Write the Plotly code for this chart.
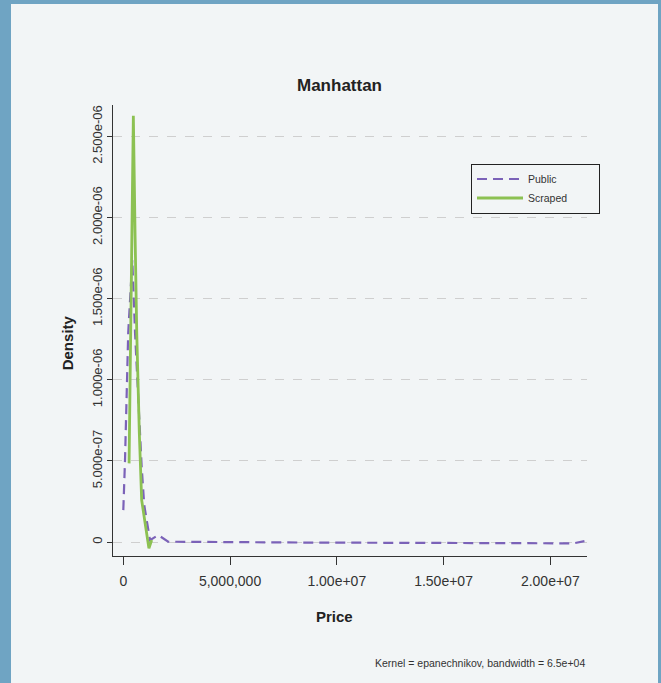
import plotly.graph_objects as go

# ---- data ----
public_price = [0.0, 0.08e6, 0.23e6, 0.42e6, 0.55e6, 0.70e6, 0.86e6, 0.98e6, 1.10e6, 1.25e6,
                1.64e6, 2.10e6, 8.3e6, 15.3e6, 21.08e6, 21.6e6]
public_density = [1.97e-7, 5.06e-7, 1.289e-6, 1.739e-6, 1.289e-6, 8.76e-7, 4.64e-7, 2.28e-7,
                  1.36e-7, 1.2e-8, 4.3e-8, 2e-9, -3e-9, -6e-9, -8e-9, 6e-9]

scraped_price = [0.27e6, 0.47e6, 0.55e6, 0.63e6, 0.75e6, 0.86e6, 1.02e6, 1.10e6, 1.20e6, 1.33e6]
scraped_density = [4.85e-7, 2.627e-6, 1.905e-6, 1.289e-6, 6.72e-7, 2.59e-7, 1.17e-7, 3.3e-8,
                   -3.9e-8, 1.2e-8]

series_names = ["Public", "Scraped"]

x_tickvals = [0, 5e6, 1e7, 1.5e7, 2e7]
x_ticktext = ["0", "5,000,000", "1.00e+07", "1.50e+07", "2.00e+07"]
y_tickvals = [0, 5e-7, 1e-6, 1.5e-6, 2e-6, 2.5e-6]
y_ticktext = ["0", "5.000e-07", "1.000e-06", "1.500e-06", "2.000e-06", "2.500e-06"]

title_text = "Manhattan"
x_title = "Price"
y_title = "Density"
note_text = "Kernel = epanechnikov, bandwidth = 6.5e+04"

# ---- styles ----
PURPLE = "#7b62b8"
GREEN = "#8cc152"
PANEL = "#f2f5f6"
BORDER = "#6fa4c3"
FONT = "Liberation Sans, Arial, sans-serif"
W, H = 661, 683
L, R, T, B = 113, 74, 105, 127
PW, PH = W - L - R, H - T - B
PAD = "\u00a0" * 9


def px_x(p):
    return (p - L) / PW


def px_y(p):
    return (H - B - p) / PH


fig = go.Figure()
fig.add_trace(go.Scatter(x=public_price, y=public_density, mode="lines",
                         name=series_names[0] + PAD,
                         line=dict(color=PURPLE, width=2.2, dash="10px,6px")))
fig.add_trace(go.Scatter(x=scraped_price, y=scraped_density, mode="lines",
                         name=series_names[1] + PAD,
                         line=dict(color=GREEN, width=2.8)))

fig.update_layout(
    width=W, height=H,
    margin=dict(l=L, r=R, t=T, b=B, pad=0),
    paper_bgcolor=BORDER,
    plot_bgcolor="rgba(0,0,0,0)",
    font=dict(family=FONT, color="#222222"),
    showlegend=True,
    legend=dict(x=px_x(471), y=px_y(163.5), xanchor="left", yanchor="top",
                bgcolor=PANEL, bordercolor="#222222", borderwidth=1,
                font=dict(size=10.5, color="#333333"), itemwidth=46,
                tracegroupgap=0),
    xaxis=dict(range=[-0.483e6, 21.72e6], tickvals=x_tickvals, ticktext=x_ticktext,
               showgrid=False, zeroline=False, showline=True, linecolor="#333333",
               linewidth=1.3, ticks="outside", ticklen=8, tickcolor="#333333",
               tickwidth=1.3, ticklabelstandoff=4,
               tickfont=dict(size=14, color="#333333")),
    yaxis=dict(range=[-8.6e-8, 2.694e-6], tickvals=y_tickvals, ticktext=y_ticktext,
               showgrid=True, gridcolor="#cfcfcf", gridwidth=1, griddash="dash",
               zeroline=False, showline=True, linecolor="#333333", linewidth=1.3,
               ticks="outside", ticklen=5, tickcolor="#333333", tickwidth=1.3,
               tickangle=-90, tickfont=dict(size=13, color="#333333")),
    shapes=[dict(type="rect", xref="paper", yref="paper", layer="below",
                 x0=px_x(11), x1=px_x(658), y0=px_y(H + 5), y1=px_y(4),
                 fillcolor=PANEL, line=dict(width=0))],
    annotations=[
        dict(text="<b>" + title_text + "</b>", xref="paper", yref="paper",
             x=px_x(339.5), y=px_y(86), xanchor="center", yanchor="middle",
             showarrow=False, font=dict(size=17, color="#222222")),
        dict(text="<b>" + y_title + "</b>", xref="paper", yref="paper",
             x=px_x(67.3), y=px_y(343), xanchor="center", yanchor="middle",
             textangle=-90, showarrow=False, font=dict(size=15, color="#222222")),
        dict(text="<b>" + x_title + "</b>", xref="paper", yref="paper",
             x=px_x(334), y=px_y(616.7), xanchor="center", yanchor="middle",
             showarrow=False, font=dict(size=15, color="#222222")),
        dict(text=note_text, xref="paper", yref="paper",
             x=px_x(587), y=px_y(663), xanchor="right", yanchor="middle",
             showarrow=False, font=dict(size=10.5, color="#333333")),
    ],
)

fig.write_html("out.html", config={"displayModeBar": False},
               post_script="document.body.style.margin='0';")
